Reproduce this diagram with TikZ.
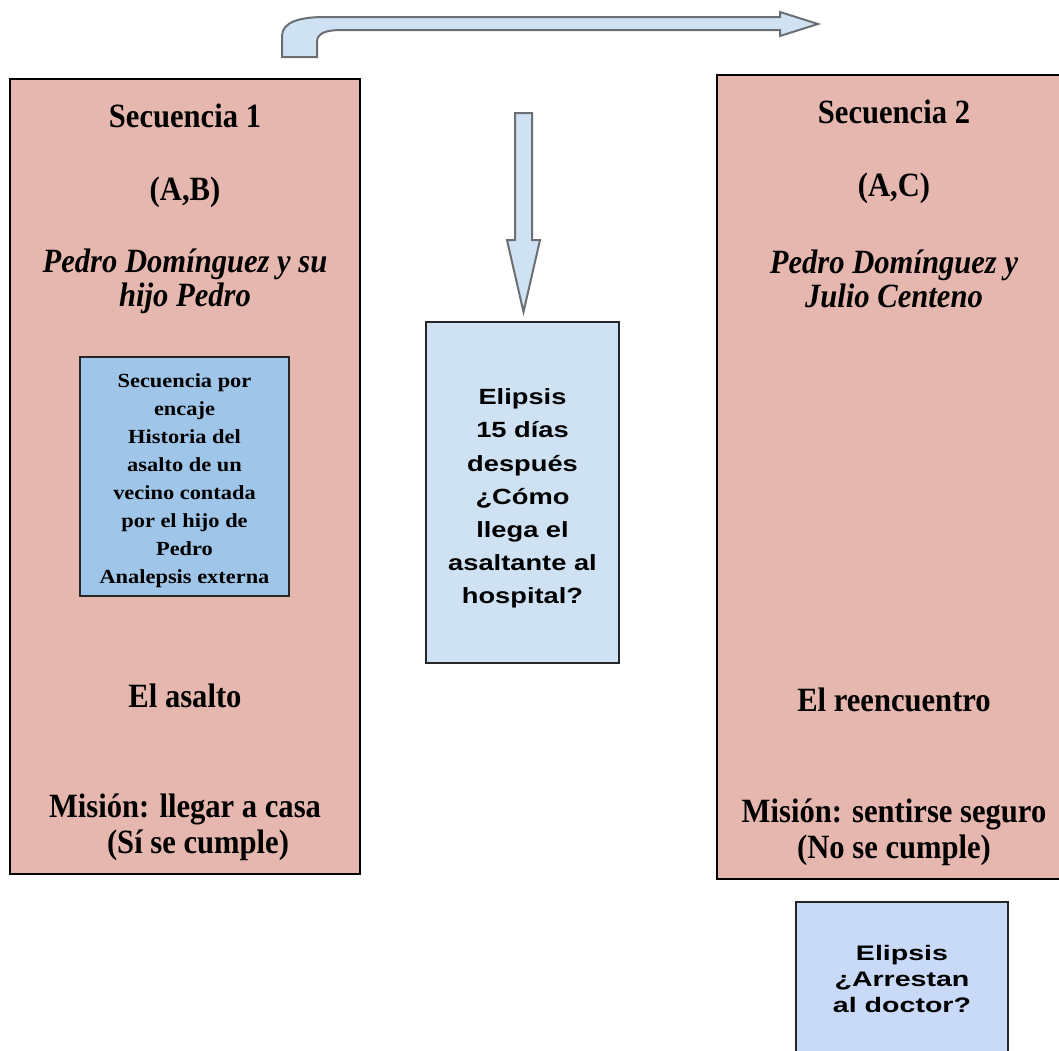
\documentclass[tikz,border=0pt]{standalone}
\usepackage{fontspec}
\setmainfont{Liberation Serif}[FakeStretch=0.9]
\newfontfamily\encajefont{Liberation Serif}[FakeStretch=1.12]
\newfontfamily\elipsisfont{Liberation Sans}[FakeStretch=1.24]
\newfontfamily\arrestfont{Liberation Sans}[FakeStretch=1.36]
\usepackage{xcolor}
\usetikzlibrary{positioning}
\definecolor{seqpink}{RGB}{230,183,175}
\definecolor{encajeblue}{RGB}{159,197,232}
\definecolor{elipsisblue}{RGB}{207,226,243}
\definecolor{arrestblue}{RGB}{201,218,248}
\definecolor{arrowgray}{RGB}{107,110,115}

\begin{document}
\begin{tikzpicture}[x=0.5pt,y=-0.5pt,
  seqbox/.style={draw=black,line width=1pt,fill=seqpink,inner sep=0pt},
  seqtext/.style={font=\fontsize{17}{18}\selectfont\bfseries,align=center,inner sep=0pt},
  chartext/.style={font=\fontsize{17}{17}\selectfont\bfseries\itshape,align=center,inner sep=0pt},
  encajebox/.style={draw=black!85,line width=.75pt,fill=encajeblue,align=center,
    font=\encajefont\fontsize{10}{14}\selectfont\bfseries},
  elipsisbox/.style={draw=black!85,line width=.75pt,fill=elipsisblue,align=center,
    font=\elipsisfont\fontsize{11}{16.6}\selectfont\bfseries},
  blockarrow/.style={draw=arrowgray,line width=1pt,fill=elipsisblue,line join=miter}]
  \useasboundingbox (0,0) rectangle (1059,1050);

  % sequence boxes
  \node[seqbox,minimum width=175pt,minimum height=397.5pt] (sec1) at (185,476.5) {};
  \node[seqbox,minimum width=177pt,minimum height=402pt] (sec2) at (894,477) {};

  \node[seqtext] (sec1title) at (185,116) {Secuencia 1};
  \node[seqtext] (sec1pair) at (185,192) {(A,B)};
  \node[chartext] (sec1chars) at (185,281) {Pedro Domínguez y su\\hijo Pedro};
  \node[encajebox,minimum width=104.5pt,minimum height=119.5pt] (encaje) at (184.5,476.5)
    {\rule{0pt}{11pt}Secuencia por\\encaje\\Historia del\\asalto de un\\vecino contada\\por el hijo de\\Pedro\\Analepsis externa};
  \node[seqtext] (sec1event) at (185,696) {El asalto};
  \node[seqtext] (sec1mission) at (185,827) {Misión: llegar a casa\\\hspace*{13pt}(Sí se cumple)};

  \node[seqtext] (sec2title) at (894,112) {Secuencia 2};
  \node[seqtext] (sec2pair) at (894,188) {(A,C)};
  \node[chartext] (sec2chars) at (894,279) {Pedro Domínguez y\\Julio Centeno};
  \node[seqtext] (sec2event) at (894,700) {El reencuentro};
  \node[seqtext] (sec2mission) at (894,832) {Misión: sentirse seguro\\(No se cumple)};

  % ellipses
  \node[elipsisbox,minimum width=96.5pt,minimum height=170.5pt] (elipsis1) at (522.5,492.5)
    {\rule{0pt}{14pt}Elipsis\\15 días\\después\\¿Cómo\\llega el\\asaltante al\\hospital?};
  \node[elipsisbox,fill=arrestblue,minimum width=106pt,minimum height=77pt,
    font=\arrestfont\fontsize{10.5}{12.8}\selectfont\bfseries] (elipsis2) at (902,979)
    {Elipsis\\¿Arrestan\\al doctor?};

  % block arrows
  \draw[blockarrow] (515,113) -- (532,113) -- (532,240) -- (540,240) -- (523.5,312)
    -- (507,240) -- (515,240) -- cycle;
  \draw[blockarrow] (282,57) -- (282,36) .. controls (282,22) and (300,17) .. (325,17)
    -- (780,17) -- (780,12) -- (818,24) -- (780,36) -- (780,30) -- (342,30)
    .. controls (326,30) and (317,33) .. (317,42) -- (317,57) -- cycle;
\end{tikzpicture}
\end{document}
